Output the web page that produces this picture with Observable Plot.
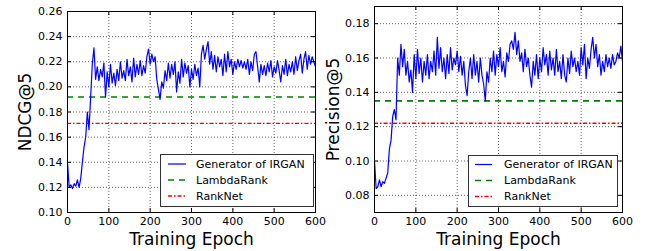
<!DOCTYPE html>
<html><head><meta charset="utf-8">
<script src="https://cdn.jsdelivr.net/npm/d3@7"></script>
<script src="https://cdn.jsdelivr.net/npm/@observablehq/plot@0.6"></script>
<style>
body{margin:0;background:#fff;font-family:"DejaVu Sans",sans-serif}
#wrap{position:relative;width:650px;height:251px;overflow:hidden}
.panel{position:absolute;top:0}
.legend{position:absolute;background:#fff;border:1px solid #333;box-sizing:border-box}
</style></head><body><div id="wrap"></div>
<script>
// epochs sampled every 4 training epochs (0..600)
const EPOCH_STEP = 4;
const xTicks = [0, 100, 200, 300, 400, 500, 600];
const seriesNames = ["Generator of IRGAN", "LambdaRank", "RankNet"];

const ndcgTicks = [0.10, 0.12, 0.14, 0.16, 0.18, 0.20, 0.22, 0.24, 0.26];
const ndcgLambdaRank = 0.192;
const ndcgRankNet = 0.171;
const ndcgValues = [
0.140,0.120,0.122,0.119,0.123,0.121,0.126,0.120,0.127,0.140,
0.152,0.160,0.180,0.166,0.192,0.218,0.231,0.206,0.216,0.205,
0.214,0.208,0.219,0.192,0.212,0.200,0.218,0.203,0.211,0.201,
0.214,0.205,0.220,0.207,0.213,0.205,0.222,0.209,0.216,0.204,
0.223,0.208,0.218,0.210,0.221,0.209,0.217,0.211,0.224,0.230,
0.218,0.226,0.220,0.224,0.206,0.198,0.190,0.204,0.199,0.213,
0.205,0.219,0.207,0.218,0.210,0.220,0.196,0.212,0.203,0.222,
0.208,0.219,0.211,0.217,0.200,0.214,0.206,0.218,0.209,0.215,
0.200,0.226,0.233,0.222,0.230,0.236,0.218,0.228,0.214,0.225,
0.212,0.224,0.216,0.222,0.209,0.226,0.212,0.228,0.216,0.222,
0.210,0.220,0.214,0.222,0.216,0.221,0.215,0.220,0.214,0.222,
0.210,0.220,0.213,0.226,0.228,0.216,0.204,0.218,0.210,0.217,
0.209,0.219,0.212,0.221,0.208,0.216,0.211,0.221,0.213,0.204,
0.217,0.210,0.222,0.209,0.218,0.212,0.220,0.210,0.224,0.213,
0.221,0.226,0.211,0.222,0.228,0.214,0.225,0.218,0.224,0.220,
0.216];

const precTicks = [0.08, 0.10, 0.12, 0.14, 0.16, 0.18];
const precLambdaRank = 0.135;
const precRankNet = 0.122;
const precValues = [
0.100,0.084,0.085,0.089,0.085,0.088,0.087,0.090,0.093,0.107,
0.112,0.126,0.130,0.124,0.160,0.150,0.168,0.155,0.165,0.150,
0.158,0.146,0.153,0.140,0.162,0.148,0.165,0.151,0.160,0.146,
0.158,0.150,0.162,0.148,0.158,0.152,0.164,0.150,0.172,0.154,
0.166,0.152,0.160,0.148,0.162,0.151,0.166,0.153,0.160,0.156,
0.164,0.152,0.161,0.150,0.158,0.144,0.138,0.152,0.160,0.148,
0.162,0.150,0.158,0.146,0.160,0.150,0.145,0.135,0.152,0.146,
0.160,0.152,0.164,0.150,0.162,0.155,0.166,0.152,0.158,0.149,
0.163,0.158,0.168,0.170,0.165,0.175,0.162,0.170,0.158,0.163,
0.152,0.165,0.155,0.160,0.150,0.143,0.158,0.150,0.162,0.148,
0.160,0.152,0.166,0.156,0.162,0.150,0.164,0.153,0.160,0.150,
0.165,0.152,0.158,0.148,0.162,0.150,0.146,0.160,0.151,0.164,
0.155,0.160,0.152,0.158,0.150,0.166,0.156,0.168,0.148,0.160,
0.154,0.165,0.172,0.160,0.168,0.155,0.162,0.150,0.158,0.152,
0.162,0.155,0.160,0.154,0.162,0.156,0.158,0.163,0.160,0.167,
0.158];

const colors = {gen: "#0000ff", lambda: "#008000", rank: "#ff0000"};
const greenDash = "6,5";
const redDash = "4,2,1.5,2";

function panel(o) {
  const data = o.values.map((v, i) => ({epoch: i * EPOCH_STEP, v}));
  const plotH = 251 - o.mT - o.mB;
  const plotW = o.width - o.mL - o.mR;
  const grid = {stroke: "#000", strokeOpacity: 0.75, strokeWidth: 0.8, strokeDasharray: "1,2"};
  return Plot.plot({
    width: o.width, height: 251,
    marginLeft: o.mL, marginRight: o.mR, marginTop: o.mT, marginBottom: o.mB,
    style: {fontFamily: "DejaVu Sans", fontSize: "11px", color: "#000", background: "transparent", overflow: "visible"},
    x: {domain: [0, 600], label: null},
    y: {domain: o.yDomain, label: null},
    marks: [
      Plot.ruleX(xTicks, {x: d => d, ...grid}),
      Plot.ruleY(o.yTicks, {y: d => d, ...grid}),
      Plot.ruleY([o.lambda], {y: d => d, stroke: colors.lambda, strokeWidth: 1.6, strokeDasharray: greenDash}),
      Plot.ruleY([o.rank], {y: d => d, stroke: colors.rank, strokeWidth: 1.3, strokeDasharray: redDash}),
      Plot.lineY(data, {x: "epoch", y: "v", stroke: colors.gen, strokeWidth: 1.2}),
      // inward ticks on all four sides
      Plot.ruleX(xTicks, {x: d => d, insetTop: plotH - 4, stroke: "#000"}),
      Plot.ruleX(xTicks, {x: d => d, insetBottom: plotH - 4, stroke: "#000"}),
      Plot.ruleY(o.yTicks, {y: d => d, insetRight: plotW - 4, stroke: "#000"}),
      Plot.ruleY(o.yTicks, {y: d => d, insetLeft: plotW - 4, stroke: "#000"}),
      Plot.axisX(xTicks, {tickSize: 0, tickPadding: 5, tickFormat: d => String(d), label: null}),
      Plot.axisY(o.yTicks, {tickSize: 0, tickPadding: 5, tickFormat: d3.format(".2f"), label: null}),
      Plot.frame({stroke: "#000", strokeWidth: 1}),
      Plot.text(["Training Epoch"], {text: d => d, frameAnchor: "bottom", dy: 27, textAnchor: "middle", lineAnchor: "middle", fontSize: 17, fill: "#000"}),
      Plot.text([o.ylabel], {text: d => d, frameAnchor: "left", dx: o.ylabelDx, textAnchor: "middle", lineAnchor: "middle", rotate: -90, fontSize: 17, fill: "#000"})
    ]
  });
}

function legend(box) {
  const ns = "http://www.w3.org/2000/svg";
  const div = document.createElement("div");
  div.className = "legend";
  Object.assign(div.style, {left: box.x + "px", top: box.y + "px", width: box.w + "px", height: box.h + "px"});
  const svg = document.createElementNS(ns, "svg");
  svg.setAttribute("width", box.w - 2); svg.setAttribute("height", box.h - 2);
  svg.style.display = "block";
  const styles = [
    {stroke: colors.gen, width: 1.2, dash: null},
    {stroke: colors.lambda, width: 1.6, dash: greenDash},
    {stroke: colors.rank, width: 1.3, dash: redDash}
  ];
  seriesNames.forEach((name, i) => {
    const y = box.row0 + i * 16;
    const l = document.createElementNS(ns, "line");
    l.setAttribute("x1", box.s0); l.setAttribute("x2", box.s1);
    l.setAttribute("y1", y); l.setAttribute("y2", y);
    l.setAttribute("stroke", styles[i].stroke);
    l.setAttribute("stroke-width", styles[i].width);
    if (styles[i].dash) l.setAttribute("stroke-dasharray", styles[i].dash);
    svg.appendChild(l);
    const t = document.createElementNS(ns, "text");
    t.setAttribute("x", box.tx); t.setAttribute("y", y);
    t.setAttribute("dy", "0.35em");
    t.setAttribute("font-size", "11px");
    t.setAttribute("font-family", "DejaVu Sans");
    t.textContent = name;
    svg.appendChild(t);
  });
  div.appendChild(svg);
  return div;
}

const wrap = document.getElementById("wrap");
const left = panel({values: ndcgValues, yDomain: [0.10, 0.26], yTicks: ndcgTicks, lambda: ndcgLambdaRank, rank: ndcgRankNet,
  ylabel: "NDCG@5", ylabelDx: -42, width: 325, mL: 67, mR: 10, mT: 11, mB: 39});
left.classList.add("panel"); left.style.left = "0px";
wrap.appendChild(left);
const right = panel({values: precValues, yDomain: [0.07, 0.19], yTicks: precTicks, lambda: precLambdaRank, rank: precRankNet,
  ylabel: "Precision@5", ylabelDx: -41, width: 325, mL: 49, mR: 28, mT: 6, mB: 39});
right.classList.add("panel"); right.style.left = "325px";
wrap.appendChild(right);

wrap.appendChild(legend({x: 160, y: 154, w: 154, h: 53, row0: 9, s0: 7, s1: 25, tx: 35}));
wrap.appendChild(legend({x: 468, y: 155, w: 150, h: 52, row0: 8.5, s0: 6, s1: 23, tx: 35}));
</script></body></html>
